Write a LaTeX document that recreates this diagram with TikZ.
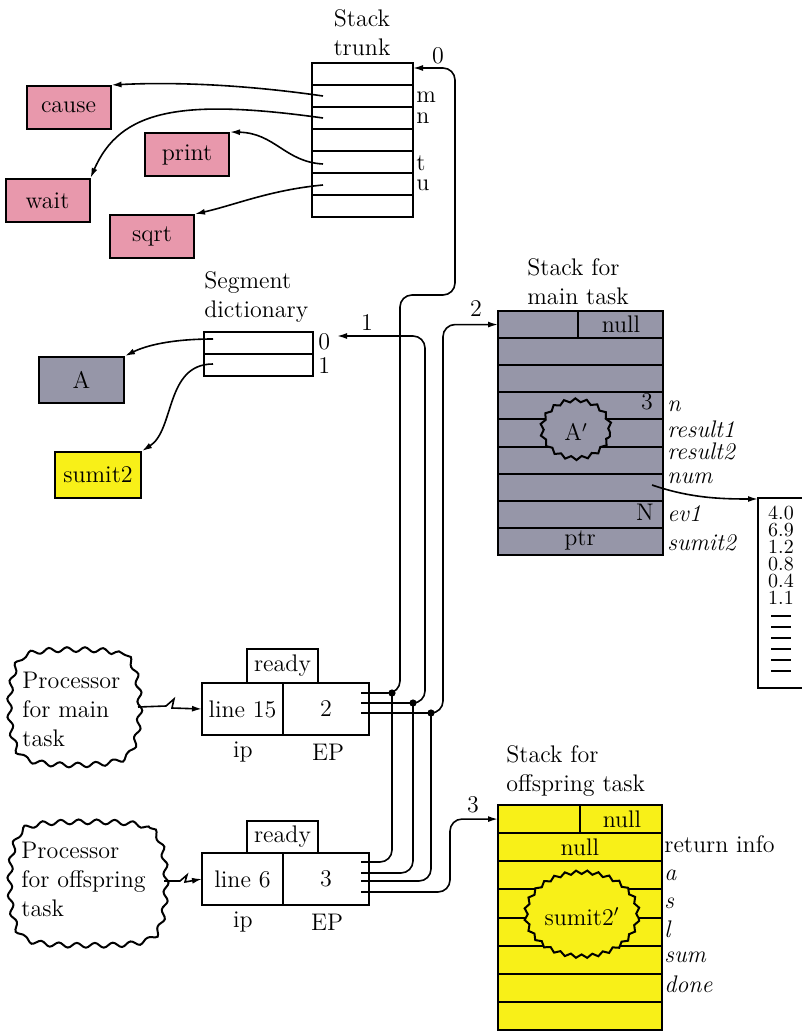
\documentclass[tikz,border=0pt,12pt]{standalone}
\usetikzlibrary{arrows.meta,shapes.geometric,decorations.pathmorphing}
\definecolor{trunkpink}{RGB}{232,152,172}
\definecolor{stackgray}{RGB}{150,150,168}
\definecolor{segyellow}{RGB}{248,240,24}
\tikzset{
 cell/.style={draw,line width=1pt,minimum height=11pt,inner sep=0pt,outer sep=0pt},
 fnbox/.style={draw,line width=1pt,fill=trunkpink,minimum width=42pt,minimum height=21.5pt,inner sep=1pt},
 ptr/.style={line width=.8pt,-{Latex[length=5pt,width=3pt]}},
 bus/.style={line width=.8pt,rounded corners=6pt},
 blob/.style={ellipse,draw,line width=1pt,inner sep=0pt,decorate,decoration={snake,amplitude=.9pt,segment length=5.5pt}},
 cloudline/.style={line width=1pt,decorate,decoration={snake,amplitude=1.2pt,segment length=9pt}},
 fld/.style={font=\itshape,anchor=base west,inner sep=0pt},
}
\begin{document}
\begin{tikzpicture}[x=.5pt,y=-.5pt]
 \useasboundingbox (0,0) rectangle (802,1032);
 % stack trunk
 \node[align=center] (trunkttl) at (362,33) {Stack\\trunk};
 \foreach \i in {1,...,7}
  \node[cell,minimum width=50.5pt] (trunk\i) at (362.5,{63+22*(\i-0.5)}) {};
 \foreach \y/\lab in {103/m,124/n,171/t,191/u}
  \node[anchor=base west,inner sep=0pt] (tl\lab) at (416,\y) {\lab};
 \node (t0) at (438,56) {0};
 \foreach \x/\y/\fn in {68.5/107.5/cause,187/154.5/print,47.5/200.5/wait,152/236.5/sqrt}
  \node[fnbox] (\fn) at (\x,\y) {\fn};
 \coordinate (sm) at (323,96);
 \coordinate (sn) at (323,118);
 \coordinate (st) at (323,164);
 \coordinate (su) at (323,185);
 \draw[ptr] (sm) .. controls (240,84) and (170,82) .. (cause.north east);
 \draw[ptr] (sn) .. controls (180,98) and (120,110) .. (wait.north east);
 \draw[ptr] (st) .. controls (285,162) and (275,133) .. (print.north east);
 \draw[ptr] (su) .. controls (270,190) and (235,205) .. (sqrt.north east);
 % segment dictionary
 \node[align=left,anchor=west,inner sep=0pt] (segttl) at (204,297) {Segment\\dictionary};
 \node[cell,minimum width=54.5pt] (seg0) at (258.5,343) {};
 \node[cell,minimum width=54.5pt] (seg1) at (258.5,365) {};
 \node[anchor=west,inner sep=0pt] (sl0) at (318,342) {0};
 \node[anchor=west,inner sep=0pt] (sl1) at (318,366) {1};
 \node[draw,line width=1pt,fill=stackgray,minimum width=42.5pt,minimum height=23pt] (segA) at (81.5,380) {A};
 \node[draw,line width=1pt,fill=segyellow,minimum width=43pt,minimum height=23pt,inner sep=1pt] (segsum) at (98,475) {sumit2};
 \coordinate (s0) at (213,339);
 \coordinate (s1) at (213,364);
 \draw[ptr] (s0) .. controls (170,339) and (145,346) .. (segA.north east);
 \draw[ptr] (s1) .. controls (165,364) and (175,430) .. (segsum.north east);
 % stack for main task
 \node[align=left,anchor=west,inner sep=0pt] (mainttl) at (527,282) {Stack for\\main task};
 \foreach \i in {1,...,9}
  \node[cell,fill=stackgray,minimum width=82.5pt,minimum height=13.55pt] (main\i) at (580.5,{311+27.1*(\i-0.5)}) {};
 \draw[line width=1pt] (578,311) -- (578,338.1);
 \node (mnull) at (621,324) {null};
 \node (mthree) at (647,402) {3};
 \node (mN) at (645,512) {N};
 \node (mptr) at (580,540) {ptr};
 \node[blob,fill=stackgray,minimum width=34pt,minimum height=29pt] (aprime) at (576,432) {A$'$};
 \foreach \y/\lab in {411/n,437/result1,459/result2,483/num,521/ev1,550/sumit2}
  \node[fld] (mf-\lab) at (667,\y) {\lab};
 % list of values
 \coordinate (snum) at (652,485);
 \coordinate (listin) at (758,499);
 \draw[ptr] (snum) .. controls (690,498) and (720,499) .. (listin);
 \draw[line width=1pt] (804,498) -- (758,498) -- (758,688) -- (804,688);
 \foreach \i/\v in {1/4.0,2/6.9,3/1.2,4/0.8,5/0.4,6/1.1}
  \node[inner sep=0pt,font=\footnotesize] (val\i) at (781,{496+16.9*\i}) {\v};
 \foreach \y in {616,627,638,649,660,671}
  \draw[line width=.9pt] (771,\y) -- (791,\y);
 % stack for offspring task
 \node[align=left,anchor=west,inner sep=0pt] (offttl) at (506,771) {Stack for\\offspring task};
 \foreach \i in {1,...,8}
  \node[cell,fill=segyellow,minimum width=82pt,minimum height=14.06pt] (off\i) at (580,{805+28.125*(\i-0.5)}) {};
 \draw[line width=1pt] (580,805) -- (580,833.1);
 \node (onull) at (622,819) {null};
 \node (onull2) at (580,847) {null};
 \node[blob,fill=segyellow,minimum width=56pt,minimum height=42pt] (sprime) at (582,917) {sumit2$'$};
 \node[anchor=base west,inner sep=0pt] (oret) at (664,852) {return info};
 \foreach \y/\lab in {880/a,908/s,937/l,962/sum,992/done}
  \node[fld] (of-\lab) at (664,\y) {\lab};
 % processors
 \draw[cloudline] plot[smooth cycle] coordinates {(72,647) (125,655) (137,704) (125,753) (72,762) (19,753) (7,704) (19,655)};
 \node[align=left,anchor=west,inner sep=0pt] (pmain) at (22,709) {Processor\\for main\\task};
 \draw[cloudline] plot[smooth cycle] coordinates {(85,820) (150,828) (163,881) (150,935) (85,943) (20,935) (7,881) (20,828)};
 \node[align=left,anchor=west,inner sep=0pt] (poff) at (21,879) {Processor\\for offspring\\task};
 \coordinate (pme) at (138,707);
 \coordinate (poe) at (164,881);
 \node[cell,minimum width=35.5pt,minimum height=17pt] (mready) at (282.5,666) {ready};
 \node[cell,minimum width=40.5pt,minimum height=26pt] (mip) at (242.5,709) {line 15};
 \node[cell,minimum width=43pt,minimum height=26pt] (mep) at (326,709) {2};
 \node (mipl) at (243,752) {ip};
 \node (mepl) at (328,752) {EP};
 \node[cell,minimum width=35.5pt,minimum height=16pt] (oready) at (282.5,837) {ready};
 \node[cell,minimum width=40.5pt,minimum height=26pt] (oip) at (242.5,879) {line 6};
 \node[cell,minimum width=43pt,minimum height=26pt] (oep) at (326,879) {3};
 \node (oipl) at (243,922) {ip};
 \node (oepl) at (327,922) {EP};
 \draw[ptr] (pme) -- (166,706) -- (174,699) -- (172,708) -- (mip.west);
 \draw[ptr] (poe) -- (180,881) -- (187,875) -- (185,882) -- (oip.west);
 % pointer lines
 \coordinate (ma) at (361,693);
 \coordinate (mb) at (361,703);
 \coordinate (mc) at (361,713);
 \coordinate (oa) at (361,862);
 \coordinate (ob) at (361,873);
 \coordinate (oc) at (361,881);
 \coordinate (od) at (361,892);
 \coordinate (ja) at (392,693);
 \coordinate (jb) at (413,703);
 \coordinate (jc) at (431,713);
 \coordinate (trunkin) at (413,68);
 \coordinate (segin) at (337,336);
 \draw[bus,-{Latex[length=5pt,width=3pt]}] (ma) -- (400,693) -- (400,295) -- (455,295) -- (455,68) -- (trunkin);
 \draw[bus,-{Latex[length=5pt,width=3pt]}] (mb) -- (425,703) -- (425,336) -- (segin);
 \draw[bus,-{Latex[length=5pt,width=3pt]}] (mc) -- (443,713) |- (main1.west);
 \draw[bus,-{Latex[length=5pt,width=3pt]}] (od) -- (450,892) |- (off1.west);
 \draw[bus] (ja) |- (oa);
 \draw[bus] (jb) |- (ob);
 \draw[bus] (jc) |- (oc);
 \foreach \p in {ja,jb,jc}
  \fill (\p) circle (1.8pt);
 \node (n1) at (367,323) {1};
 \node (n2) at (476,309) {2};
 \node (n3) at (473,805) {3};
\end{tikzpicture}
\end{document}
